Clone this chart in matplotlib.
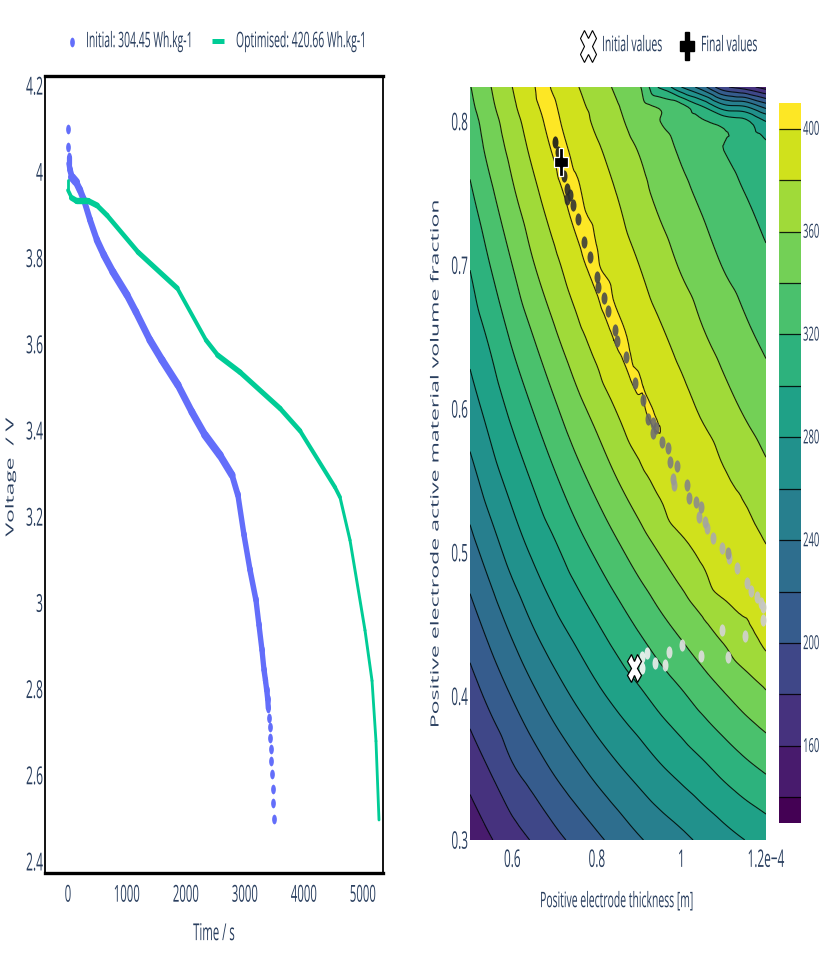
import numpy as np
import matplotlib
matplotlib.use("Agg")
from matplotlib import pyplot as plt
from matplotlib import patheffects, tri
from matplotlib.collections import LineCollection
from matplotlib.colors import ListedColormap
from matplotlib.lines import Line2D
from matplotlib.markers import MarkerStyle
from matplotlib.text import Text
from matplotlib.transforms import Affine2D

### DATA ###

# voltage curves
initial_time = [0, 8, 17, 17, 34, 68, 136, 203, 271, 373, 491, 610, 763, 1000, 1153, 1390, 1593, 1864, 2102, 2322,
                2576, 2780, 2881, 2983, 3085, 3186, 3237, 3288, 3322, 3347, 3368, 3385, 3395, 3407, 3419, 3429, 3437,
                3446, 3458, 3469, 3480, 3492]
initial_voltage = [4.10, 4.058, 4.035, 4.02, 4.005, 3.988, 3.977, 3.958, 3.935, 3.889, 3.842, 3.807, 3.768, 3.715,
                   3.675, 3.61, 3.564, 3.506, 3.443, 3.39, 3.343, 3.297, 3.25, 3.158, 3.077, 3.007, 2.949, 2.891,
                   2.845, 2.821, 2.798, 2.777, 2.756, 2.733, 2.712, 2.687, 2.661, 2.633, 2.603, 2.570, 2.536, 2.499]
optimised_time = [0, 0, 64, 150, 345, 490, 660, 1190, 1850, 2340, 2540, 2915, 3593, 3932, 4525, 4610, 4780, 5034,
                  5153, 5220, 5271]
optimised_voltage = [3.981, 3.958, 3.94, 3.933, 3.933, 3.923, 3.90, 3.814, 3.731, 3.61, 3.575, 3.536, 3.452, 3.40,
                     3.269, 3.246, 3.146, 2.937, 2.82, 2.68, 2.497]

time_ticks = [0, 1000, 2000, 3000, 4000, 5000]
voltage_ticks = [2.4, 2.6, 2.8, 3, 3.2, 3.4, 3.6, 3.8, 4, 4.2]

# landscape, thickness in 1e-4 m
grid_thickness = [0.5, 0.55, 0.6, 0.65, 0.7, 0.75, 0.8, 0.85, 0.9, 0.95, 1.0, 1.05, 1.1, 1.15, 1.2]
grid_fraction = [0.30, 0.35, 0.40, 0.45, 0.50, 0.55, 0.60, 0.65, 0.70, 0.75, 0.78, 0.80, 0.81, 0.824]
grid_energy = [
    [146, 159, 171, 182, 194, 205, 216, 227, 238, 247, 255, 264, 272, 280, 287],
    [168, 182, 198, 210, 223, 235, 247, 258, 268, 278, 287, 296, 306, 315, 323],
    [190, 206, 221, 236, 250, 263, 275, 286, 296, 307, 317, 328, 338, 348, 357],
    [211, 228, 245, 261, 275, 287, 299, 311, 323, 335, 346, 357, 368, 378, 389],
    [232, 250, 268, 283, 296, 310, 323, 336, 349, 361, 373, 384, 397, 390, 381],
    [252, 271, 287, 302, 317, 332, 346, 360, 373, 386, 398, 392, 383, 374, 365],
    [271, 288, 305, 321, 337, 353, 367, 382, 396, 396, 387, 377, 367, 358, 350],
    [287, 304, 323, 340, 357, 373, 388, 402, 392, 383, 373, 362, 353, 344, 336],
    [301, 321, 340, 359, 375, 392, 401, 391, 380, 369, 358, 349, 339, 332, 324],
    [317, 337, 357, 375, 393, 402, 390, 379, 366, 355, 345, 336, 327, 320, 311],
    [326, 347, 366, 385, 403, 397, 383, 371, 359, 349, 337, 329, 320, 312, 305],
    [331, 352, 372, 391, 405, 390, 376, 364, 351, 340, 330, 322, 313, 305, 280],
    [335, 356, 376, 395, 403, 386, 374, 361, 349, 338, 328, 302, 270, 263, 235],
    [339, 360, 380, 398, 396, 382, 369, 356, 343, 297, 260, 228, 185, 170, 150],
]
# extra readings along the narrow yellow ridge, a grid this coarse can't hold it
ridge_thickness = [0.654, 0.674, 0.70, 0.73, 0.76, 0.80, 0.84, 0.88, 0.92, 0.949,
                   0.69, 0.714, 0.74, 0.77, 0.80, 0.84, 0.875, 0.91, 0.945,
                   0.672, 0.694, 0.72, 0.75, 0.78, 0.82, 0.857, 0.895, 0.93, 0.955]
ridge_fraction = [0.824, 0.80, 0.772, 0.741, 0.713, 0.680, 0.648, 0.62, 0.595, 0.583,
                  0.824, 0.80, 0.772, 0.741, 0.713, 0.675, 0.645, 0.615, 0.59,
                  0.824, 0.80, 0.772, 0.741, 0.713, 0.678, 0.646, 0.617, 0.595, 0.578]
ridge_energy = [400, 400, 400, 400, 400, 400, 400, 400, 400, 400,
                400, 400, 400, 400, 400, 400, 400, 400, 400,
                407, 406, 405, 404.5, 404, 403, 402, 401.5, 401, 398]

# optimiser path, from start to finish
path_thickness = [0.907, 0.907, 0.918, 0.937, 0.961, 0.970, 1.001, 1.046, 1.110, 1.096, 1.150, 1.193, 1.193, 1.188,
                  1.179, 1.164, 1.155, 1.131, 1.112, 1.096, 1.074, 1.060, 1.056, 1.041, 0.982, 0.980, 1.110, 1.046,
                  1.034, 1.018, 1.013, 0.989, 0.973, 0.968, 0.954, 0.933, 0.933, 0.940, 0.921, 0.909, 0.890, 0.869,
                  0.848, 0.843, 0.826, 0.817, 0.803, 0.800, 0.784, 0.769, 0.755, 0.744, 0.736, 0.729, 0.729, 0.722,
                  0.715, 0.708, 0.701]
path_fraction = [0.420, 0.427, 0.430, 0.423, 0.422, 0.431, 0.436, 0.428, 0.427, 0.446, 0.442, 0.453, 0.462, 0.465,
                 0.469, 0.473, 0.479, 0.489, 0.496, 0.503, 0.510, 0.517, 0.521, 0.525, 0.547, 0.551, 0.500, 0.532,
                 0.535, 0.538, 0.547, 0.560, 0.563, 0.573, 0.577, 0.583, 0.590, 0.587, 0.593, 0.606, 0.618, 0.636,
                 0.647, 0.655, 0.668, 0.677, 0.685, 0.692, 0.706, 0.716, 0.732, 0.742, 0.749, 0.746, 0.753, 0.762,
                 0.772, 0.779, 0.786]
initial_point = (0.888, 0.420)
final_point = (0.715, 0.772)

contour_levels = [140, 160, 180, 200, 220, 240, 260, 280, 300, 320, 340, 360, 380, 400]
colorbar_ticks = [160, 200, 240, 280, 320, 360, 400]

### STYLE ###

TEXT = "#2a3f5f"
BLUE = "#636efa"
GREEN = "#00cc96"
plt.rcParams["font.family"] = ["Open Sans", "DejaVu Sans"]
plt.rcParams["text.color"] = TEXT
plt.rcParams["xtick.labelcolor"] = TEXT
plt.rcParams["ytick.labelcolor"] = TEXT

W, H = 830, 969
STRETCH = 2.05  # the whole reference is stretched vertically by about this


class VerticalStretch(patheffects.AbstractPathEffect):
    # stretches a text's glyphs vertically around the middle of the text
    def __init__(self, text):
        super().__init__()
        self.text = text

    def draw_path(self, renderer, gc, tpath, affine, rgbFace=None):
        box = self.text.get_window_extent(self.text.figure.canvas.get_renderer())
        mid = (box.y0 + box.y1) / 2
        affine = affine + Affine2D().translate(0, -mid).scale(1, STRETCH).translate(0, mid)
        renderer.draw_path(gc, tpath, affine, rgbFace)


def axes_from_px(fig, left, top, right, bottom):
    return fig.add_axes([left / W, 1 - bottom / H, (right - left) / W, (bottom - top) / H])


def tall(marker):
    return MarkerStyle(marker, transform=Affine2D().scale(1, STRETCH))


def stretched_line(ax, x, y, a, b, color):
    # line drawn with an elliptical pen: a, b are half widths in px
    xy = np.column_stack([x, y])
    pts = ax.transData.transform(xy)
    d = np.diff(pts, axis=0)
    length = np.hypot(d[:, 0], d[:, 1])
    length[length == 0] = 1
    nx, ny = -d[:, 1] / length, d[:, 0] / length
    widths = 2 * np.sqrt((a * nx) ** 2 + (b * ny) ** 2) * 0.72
    segs = np.stack([xy[:-1], xy[1:]], axis=1)
    ax.add_collection(LineCollection(segs, linewidths=widths, colors=color, capstyle="round"))


fig = plt.figure(figsize=(W / 100, H / 100), dpi=100)

### LEFT PLOT ###

ax = axes_from_px(fig, 45, 76, 383, 873)
ax.set_xlim(-390, 5339)
ax.set_ylim(2.374, 4.223)
stretched_line(ax, initial_time[2:-9], initial_voltage[2:-9], 2.6, 5.5, BLUE)
ax.plot(initial_time, initial_voltage, ls="", marker=tall("o"), ms=3.4, mfc=BLUE, mec="none")
stretched_line(ax, optimised_time, optimised_voltage, 1.4, 3.2, GREEN)
ax.set_xticks(time_ticks)
ax.set_xticklabels([str(t) for t in time_ticks], fontsize=8.2)
ax.set_yticks(voltage_ticks)
ax.set_yticklabels([str(v) for v in voltage_ticks], fontsize=8.7)
ax.tick_params(length=0, pad=1.5)
ax.tick_params(axis="x", pad=13)
for side in ["top", "bottom"]:
    ax.spines[side].set_linewidth(2.4)
for side in ["left", "right"]:
    ax.spines[side].set_linewidth(1.3)

fig.text(214 / W, 1 - 935 / H, "Time / s", ha="center", va="center", fontsize=8.2)
fig.text(11 / W, 1 - 477 / H, "Voltage  / V", rotation=90, ha="center", va="center", fontsize=8)

# left legend
fig.add_artist(Line2D([72 / W], [1 - 42 / H], ls="", marker=tall("o"), ms=3.4, mfc=BLUE, mec="none"))
fig.text(86 / W, 1 - 42 / H, "Initial: 304.45 Wh.kg-1", va="center", fontsize=7.5)
fig.add_artist(Line2D([212 / W, 224 / W], [1 - 41 / H, 1 - 41 / H], color=GREEN, lw=3.6, solid_capstyle="butt"))
fig.text(236 / W, 1 - 42 / H, "Optimised: 420.66 Wh.kg-1", va="center", fontsize=7.5)

### RIGHT PLOT ###

cmap = plt.get_cmap("viridis")
band_colors = [cmap(i / 14) for i in range(15)]

ax2 = axes_from_px(fig, 470, 87, 766, 840)
gx, gy = np.meshgrid(grid_thickness, grid_fraction)
all_x = np.concatenate([gx.ravel(), ridge_thickness])
all_y = np.concatenate([gy.ravel(), ridge_fraction])
all_z = np.concatenate([np.array(grid_energy, dtype=float).ravel(), ridge_energy])
# triangulate in 1e-4 units, in metres the two axes are far too different in scale
mesh = tri.Triangulation(all_x, all_y)
interp = tri.CubicTriInterpolator(mesh, all_z, kind="geom")
fine_mesh, fine_z = tri.UniformTriRefiner(mesh).refine_field(all_z, triinterpolator=interp, subdiv=3)
fine_mesh = tri.Triangulation(fine_mesh.x * 1e-4, fine_mesh.y, fine_mesh.triangles)
fill_levels = [100] + contour_levels + [450]
ax2.tricontourf(fine_mesh, fine_z, levels=fill_levels, colors=band_colors, extend="both")
ax2.tricontour(fine_mesh, fine_z, levels=contour_levels, colors="black", linewidths=0.8, alpha=0.85)

greys = np.linspace(0.97, 0.1, len(path_thickness))
for tx, fr, g in zip(path_thickness, path_fraction, greys):
    ax2.plot(tx * 1e-4, fr, ls="", marker=tall("o"), ms=4.3, mfc=str(g), mec="none", alpha=0.9)
ax2.plot(initial_point[0] * 1e-4, initial_point[1], ls="", marker=tall("X"), ms=10, mfc="white", mec="black", mew=0.9)
ax2.plot(final_point[0] * 1e-4, final_point[1], ls="", marker=tall("P"), ms=10, mfc="black", mec="white", mew=0.9)

ax2.set_xlim(0.5e-4, 1.2e-4)
ax2.set_ylim(0.3, 0.824)
ax2.set_xticks([0.6e-4, 0.8e-4, 1.0e-4, 1.2e-4])
ax2.set_xticklabels(["0.6", "0.8", "1", "1.2e\u22124"], fontsize=8.5)
ax2.set_yticks([0.3, 0.4, 0.5, 0.6, 0.7, 0.8])
ax2.set_yticklabels(["0.3", "0.4", "0.5", "0.6", "0.7", "0.8"], fontsize=8.5)
ax2.tick_params(length=0, pad=1.5)
ax2.tick_params(axis="x", pad=9.5)
for s in ax2.spines.values():
    s.set_visible(False)

fig.text(617 / W, 1 - 902 / H, "Positive electrode thickness [m]", ha="center", va="center", fontsize=7.5)
fig.text(436 / W, 1 - 463 / H, "Positive electrode active material volume fraction", rotation=90,
         ha="center", va="center", fontsize=8.1)

# right legend
fig.add_artist(Line2D([588 / W], [1 - 46 / H], ls="", marker=tall("X"), ms=11, mfc="white", mec="black", mew=0.8))
fig.text(602 / W, 1 - 46 / H, "Initial values", va="center", fontsize=7.5)
fig.add_artist(Line2D([687 / W], [1 - 46 / H], ls="", marker=tall("P"), ms=10, mfc="black", mec="black"))
fig.text(701 / W, 1 - 46 / H, "Final values", va="center", fontsize=7.5)

### COLORBAR ###

cax = axes_from_px(fig, 779, 103, 801, 823)
edges = [130] + contour_levels + [410]
cax.pcolormesh([0, 1], edges, np.arange(15).reshape(-1, 1), cmap=ListedColormap(band_colors))
cax.hlines(contour_levels, 0, 1, colors="black", linewidth=0.9, alpha=0.85)
cax.set_xlim(0, 1)
cax.set_ylim(130, 410)
cax.set_xticks([])
cax.yaxis.tick_right()
cax.set_yticks(colorbar_ticks)
cax.set_yticklabels([str(t) for t in colorbar_ticks], fontsize=6.8)
cax.tick_params(length=0, pad=1.5)
for s in cax.spines.values():
    s.set_visible(False)

for t in fig.findobj(Text):
    if t.get_text():
        t.set_path_effects([VerticalStretch(t)])

fig.savefig("out.png", dpi=100)
